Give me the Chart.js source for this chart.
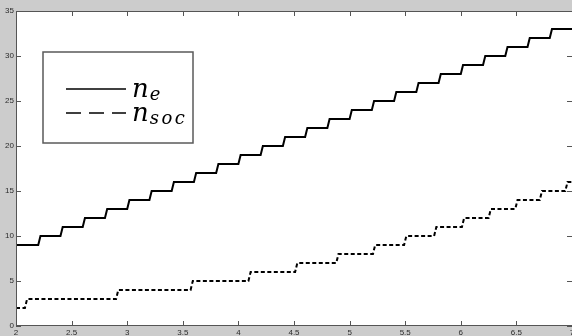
<!DOCTYPE html>
<html>
<head>
<meta charset="utf-8">
<script src="https://cdn.jsdelivr.net/npm/chart.js@4.4.0/dist/chart.umd.min.js"></script>
<style>
    html, body { margin: 0; padding: 0; background: #cccccc; }
    canvas { display: block; }
</style>
</head>
<body>
<canvas id="chart" width="572" height="336"></canvas>
<script>
// axis ticks
const xTicks = [2, 2.5, 3, 3.5, 4, 4.5, 5, 5.5, 6, 6.5, 7]
const yTicks = [0, 5, 10, 15, 20, 25, 30, 35]

// n_e : level held until each step x
const neLevels = [9, 10, 11, 12, 13, 14, 15, 16, 17, 18, 19, 20, 21, 22, 23, 24, 25, 26, 27, 28, 29, 30, 31, 32, 33]
const neStepX = [2.2, 2.4, 2.6, 2.8, 3.0, 3.2, 3.4, 3.6, 3.8, 4.0, 4.2, 4.4, 4.6, 4.8, 5.0, 5.2, 5.4, 5.6, 5.8, 6.0, 6.2, 6.4, 6.6, 6.8]

// n_soc
const socLevels = [2, 3, 4, 5, 6, 7, 8, 9, 10, 11, 12, 13, 14, 15, 16]
const socStepX = [2.08, 2.9, 3.57, 4.09, 4.51, 4.88, 5.21, 5.49, 5.76, 6.01, 6.25, 6.49, 6.71, 6.94]

const xStart = 2
const xEnd = 7
const rise = 0.02

// turn levels + step positions into points with a short slanted rise
function stairs(levels, steps) {
    const pts = [{ x: xStart, y: levels[0] }]
    steps.forEach((sx, i) => {
        pts.push({ x: sx, y: levels[i] })
        pts.push({ x: sx + rise, y: levels[i + 1] })
    })
    pts.push({ x: xEnd, y: levels[levels.length - 1] })
    return pts
}

const axisColor = "#555555"
const mathFont = "\"DejaVu Serif\", \"Liberation Serif\", serif"

const frame = {
    id: "frame",
    beforeDraw(chart) {
        const { ctx, chartArea: a } = chart
        ctx.save()
        ctx.fillStyle = "#ffffff"
        ctx.fillRect(a.left, a.top, a.right - a.left, a.bottom - a.top)
        ctx.restore()
    },
    afterDraw(chart) {
        const { ctx, chartArea: a, scales } = chart
        const x = scales.x, y = scales.y
        ctx.save()
        ctx.strokeStyle = axisColor
        ctx.lineWidth = 1
        ctx.beginPath()
        // left, top, bottom edges
        ctx.moveTo(a.left + 0.5, a.bottom)
        ctx.lineTo(a.left + 0.5, a.top + 0.5)
        ctx.lineTo(a.right, a.top + 0.5)
        ctx.moveTo(a.left, a.bottom - 0.5)
        ctx.lineTo(a.right, a.bottom - 0.5)
        // inward ticks
        xTicks.forEach(v => {
            const px = Math.round(x.getPixelForValue(v)) + 0.5
            ctx.moveTo(px, a.bottom)
            ctx.lineTo(px, a.bottom - 5)
            ctx.moveTo(px, a.top)
            ctx.lineTo(px, a.top + 5)
        })
        yTicks.forEach(v => {
            const py = Math.round(y.getPixelForValue(v)) + 0.5
            ctx.moveTo(a.left, py)
            ctx.lineTo(a.left + 5, py)
            ctx.moveTo(a.right, py)
            ctx.lineTo(a.right - 5, py)
        })
        ctx.stroke()

        // legend box
        const bx = a.left + 27, by = a.top + 41, bw = 150, bh = 91
        ctx.fillStyle = "#ffffff"
        ctx.fillRect(bx, by, bw, bh)
        ctx.strokeStyle = "#5a5a5a"
        ctx.lineWidth = 1.5
        ctx.strokeRect(bx, by, bw, bh)

        chart.data.datasets.forEach((ds, i) => {
            const ly = by + 37 + i * 24
            ctx.strokeStyle = "#000000"
            ctx.lineWidth = 1.3
            ctx.setLineDash(ds.borderDash && ds.borderDash.length ? [15, 8] : [])
            ctx.beginPath()
            ctx.moveTo(bx + 23, ly)
            ctx.lineTo(bx + 83, ly)
            ctx.stroke()
            ctx.setLineDash([])

            const [base, sub] = ds.label.split("_")
            ctx.fillStyle = "#000000"
            ctx.textBaseline = "alphabetic"
            ctx.textAlign = "left"
            ctx.font = "italic 26px " + mathFont
            ctx.fillText(base, bx + 89, ly + 8)
            let cx = bx + 89 + ctx.measureText(base).width + 1
            ctx.font = "italic 18px " + mathFont
            for (const ch of sub) {
                ctx.fillText(ch, cx, ly + 11)
                cx += ctx.measureText(ch).width + 2.5
            }
        })
        ctx.restore()
    }
}

const tickFont = { family: "'Liberation Sans', Arial, sans-serif", size: 8 }

new Chart(document.getElementById("chart"), {
    type: "line",
    data: {
        datasets: [
            {
                label: "n_e",
                data: stairs(neLevels, neStepX),
                borderColor: "#000000",
                borderWidth: 2,
                pointRadius: 0,
                tension: 0,
                fill: false
            },
            {
                label: "n_soc",
                data: stairs(socLevels, socStepX),
                borderColor: "#000000",
                borderWidth: 2,
                borderDash: [4, 2.5],
                pointRadius: 0,
                tension: 0,
                fill: false
            }
        ]
    },
    options: {
        responsive: false,
        animation: false,
        layout: { padding: { top: 11, right: 0, left: 0, bottom: 0 } },
        plugins: {
            legend: { display: false },
            tooltip: { enabled: false }
        },
        scales: {
            x: {
                type: "linear",
                min: xStart,
                max: xEnd,
                grid: { display: false, drawTicks: false },
                border: { display: false },
                ticks: { font: tickFont, color: "#2b2b2b", padding: 2, autoSkip: false, maxRotation: 0, callback: v => String(v) },
                afterBuildTicks: s => { s.ticks = xTicks.map(v => ({ value: v })) },
                afterFit: s => { s.height = 10; s.paddingLeft = 0; s.paddingRight = 0 }
            },
            y: {
                min: 0,
                max: 35,
                grid: { display: false, drawTicks: false },
                border: { display: false },
                ticks: { font: tickFont, color: "#2b2b2b", padding: 2, callback: v => String(v) },
                afterBuildTicks: s => { s.ticks = yTicks.map(v => ({ value: v })) },
                afterFit: s => { s.width = 16; s.paddingTop = 0; s.paddingBottom = 0 }
            }
        }
    },
    plugins: [frame]
})
</script>
</body>
</html>
